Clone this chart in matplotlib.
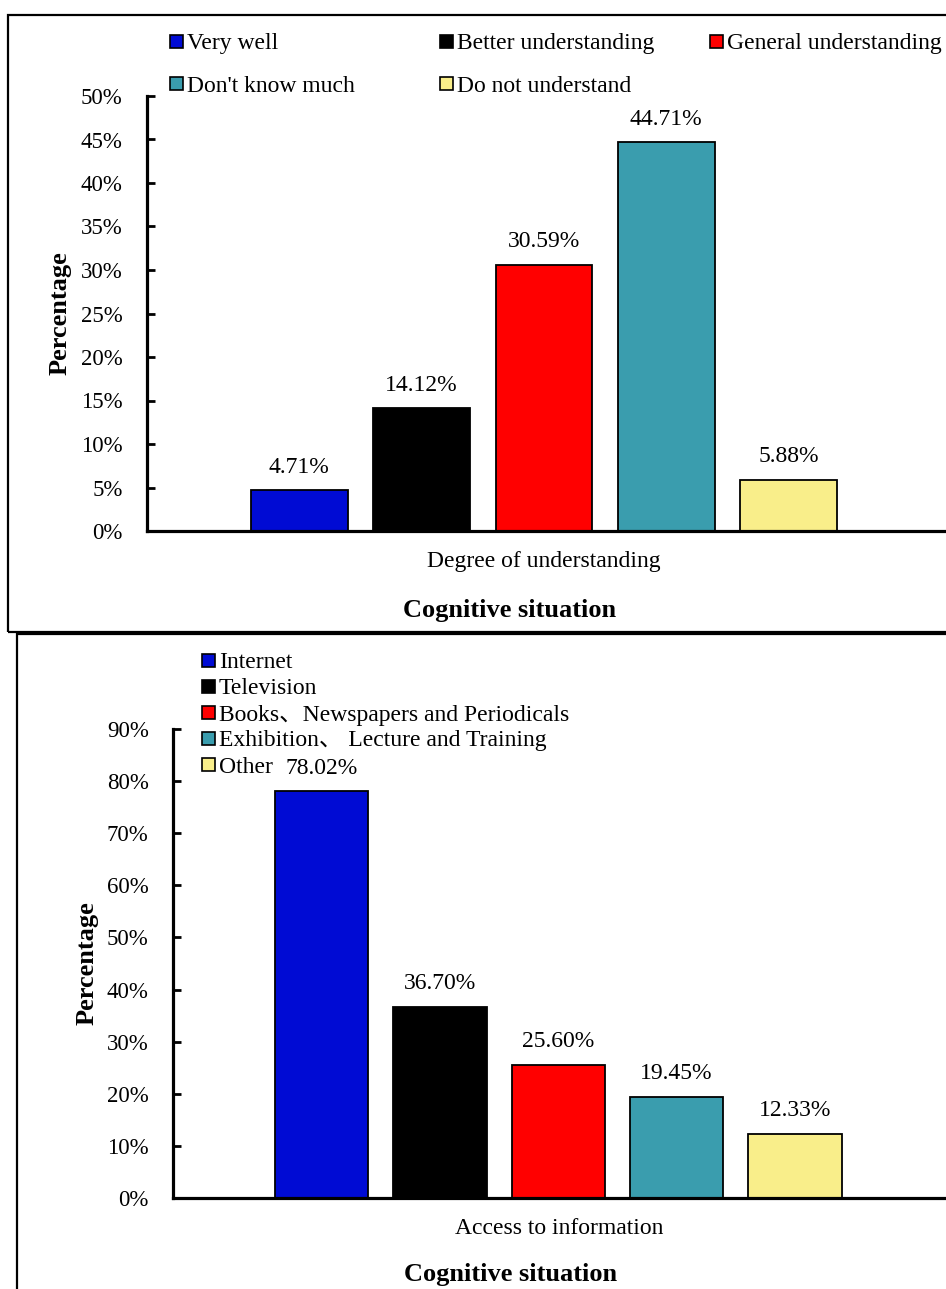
import matplotlib
matplotlib.use('Agg')
import matplotlib.pyplot as plt
from matplotlib.patches import Rectangle

plt.rcParams['font.family'] = ['Liberation Serif', 'Noto Sans CJK SC']

# cognitive situation: degree of understanding
degree_labels = ['Very well', 'Better understanding', 'General understanding',
                 "Don't know much", 'Do not understand']
degree_values = [4.71, 14.12, 30.59, 44.71, 5.88]

# cognitive situation: access to information
access_labels = ['Internet', 'Television', 'Books、Newspapers and Periodicals',
                 'Exhibition、 Lecture and Training', 'Other']
access_values = [78.02, 36.70, 25.60, 19.45, 12.33]

colors = ['#000BD4', '#000000', '#FF0000', '#3A9DAE', '#F9EE8A']

W, H = 946, 1289
fig = plt.figure(figsize=(W / 100, H / 100), dpi=100)

# pixel -> figure fraction helpers
def fx(x):
    return x / W

def fy(y):
    return 1 - y / H


def legend_item(x, y, color, text):
    fig.patches.append(Rectangle((fx(x), fy(y + 6)), 13 / W, 13 / H,
                                 transform=fig.transFigure, facecolor=color,
                                 edgecolor='black', lw=1.2))
    fig.text(fx(x + 17), fy(y + 2), text, fontsize=17, va='center', ha='left')


def bar_panel(rect, values, ymax, ystep, xlim):
    ax = fig.add_axes(rect)
    pos = list(range(len(values)))
    ax.bar(pos, values, width=0.79, color=colors, edgecolor='black', linewidth=1.3)
    for p, v in zip(pos, values):
        ax.annotate('%.2f%%' % v, (p, v), xytext=(0, 9), textcoords='offset points',
                    ha='center', va='bottom', fontsize=17)
    ax.set_xlim(*xlim)
    ax.set_ylim(0, ymax)
    ax.set_yticks(range(0, ymax + 1, ystep))
    ax.set_yticklabels(['%d%%' % t for t in range(0, ymax + 1, ystep)])
    ax.set_xticks([])
    ax.tick_params(axis='y', direction='in', length=6, width=2, pad=17.5, labelsize=16.5)
    for s in ['top', 'right']:
        ax.spines[s].set_visible(False)
    for s in ['left', 'bottom']:
        ax.spines[s].set_linewidth(2.3)
    return ax


# panel frames
fig.patches.append(Rectangle((fx(8), fy(632)), fx(980), 617 / H, transform=fig.transFigure,
                             fill=False, edgecolor='black', lw=1.6))
fig.patches.append(Rectangle((fx(17), fy(1320)), fx(980), 686 / H, transform=fig.transFigure,
                             fill=False, edgecolor='black', lw=1.6))

# top chart
bar_panel([fx(147), fy(531), fx(800), 435 / H], degree_values, 50, 5, (-1.245, 5.295))
fig.text(fx(60), fy(313), 'Percentage', rotation=90, fontsize=19, fontweight='bold',
         ha='center', va='center')
fig.text(fx(544), fy(562), 'Degree of understanding', fontsize=17, ha='center', va='center')
fig.text(fx(510), fy(610), 'Cognitive situation', fontsize=19, fontweight='bold',
         ha='center', va='center')

top_slots = [(170, 42), (440, 42), (710, 42), (170, 84), (440, 84)]
for (x, y), c, t in zip(top_slots, colors, degree_labels):
    legend_item(x, y, c, t)

# bottom chart
bar_panel([fx(173), fy(1198), fx(775), 469 / H], access_values, 90, 10, (-1.257, 5.295))
fig.text(fx(87), fy(963), 'Percentage', rotation=90, fontsize=19, fontweight='bold',
         ha='center', va='center')
fig.text(fx(559), fy(1229), 'Access to information', fontsize=17, ha='center', va='center')
fig.text(fx(511), fy(1275), 'Cognitive situation', fontsize=19, fontweight='bold',
         ha='center', va='center')

for i, (c, t) in enumerate(zip(colors, access_labels)):
    legend_item(202, 661 + i * 26, c, t)

fig.savefig('out.png', dpi=100)
